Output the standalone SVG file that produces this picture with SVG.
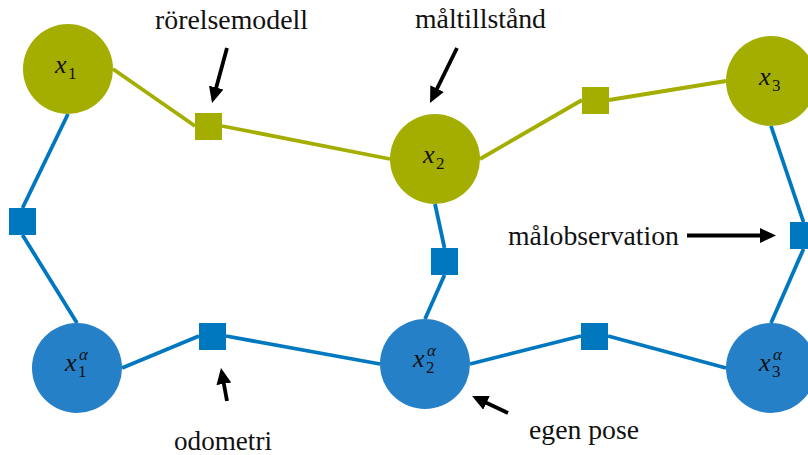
<svg xmlns="http://www.w3.org/2000/svg" width="808" height="455" viewBox="0 0 808 455">
  <defs>
    <style>
      .target { fill: #A3AE00; }
      .ego { fill: #2580C7; }
      .fblue { fill: #0078C0; }
      .fgreen { fill: #A3AE00; }
      .lgreen { stroke: #A3AE00; stroke-width: 3.8; fill: none; }
      .lblue { stroke: #0078C0; stroke-width: 3.8; fill: none; }
      .arrow { stroke: #000; stroke-width: 3.8; fill: none; marker-end: url(#head); }
      .lbl { font-family: 'Liberation Serif', 'Times New Roman', serif; font-size: 27px; fill: #111; }
      .math { font-family: 'Liberation Serif', 'Times New Roman', serif; font-style: italic; font-size: 26px; fill: #111; }
      .idx { font-family: 'Liberation Serif', 'Times New Roman', serif; font-size: 17px; fill: #111; }
      .sup { font-family: 'Liberation Serif', 'Times New Roman', serif; font-style: italic; font-size: 17px; fill: #111; }
    </style>
    <marker id="head" markerUnits="userSpaceOnUse" markerWidth="16" markerHeight="16" viewBox="0 0 16 16" refX="2" refY="8" orient="auto">
      <path d="M0,0.5 L16,8 L0,15.5 Z" fill="#000"/>
    </marker>
  </defs>

  <!-- edges between variables and factors -->
  <g id="connectors">
    <line class="lgreen" x1="113" y1="69" x2="195" y2="126"/>
    <line class="lgreen" x1="222" y1="126" x2="390" y2="159"/>
    <line class="lgreen" x1="480" y1="159" x2="582" y2="100"/>
    <line class="lgreen" x1="609" y1="100" x2="726" y2="81"/>
    <line class="lblue" x1="68" y1="114" x2="22.5" y2="208"/>
    <line class="lblue" x1="22.5" y1="235" x2="77" y2="323"/>
    <line class="lblue" x1="435" y1="204" x2="444.5" y2="248"/>
    <line class="lblue" x1="444.5" y1="275" x2="425" y2="319"/>
    <line class="lblue" x1="771" y1="126" x2="803.5" y2="222"/>
    <line class="lblue" x1="803.5" y1="249" x2="771" y2="323"/>
    <line class="lblue" x1="122" y1="368" x2="199" y2="336"/>
    <line class="lblue" x1="226" y1="336" x2="380" y2="364"/>
    <line class="lblue" x1="470" y1="364" x2="581" y2="336"/>
    <line class="lblue" x1="608" y1="336" x2="726" y2="368"/>
  </g>

  <!-- factor nodes -->
  <g id="f-motion-12"><rect class="fgreen" x="195" y="113" width="27" height="27"/></g>
  <g id="f-motion-23"><rect class="fgreen" x="582" y="87" width="27" height="27"/></g>
  <g id="f-obs-1"><rect class="fblue" x="9" y="208" width="27" height="27"/></g>
  <g id="f-obs-2"><rect class="fblue" x="431" y="248" width="27" height="27"/></g>
  <g id="f-obs-3"><rect class="fblue" x="790" y="222" width="27" height="27"/></g>
  <g id="f-odo-12"><rect class="fblue" x="199" y="323" width="27" height="27"/></g>
  <g id="f-odo-23"><rect class="fblue" x="581" y="323" width="27" height="27"/></g>

  <!-- target state variables -->
  <g id="x1">
    <circle class="target" cx="68" cy="69" r="45"/>
    <text class="math" x="55" y="73">x</text><text class="idx" x="68" y="79">1</text>
  </g>
  <g id="x2">
    <circle class="target" cx="435" cy="159" r="45"/>
    <text class="math" x="423" y="163">x</text><text class="idx" x="436" y="169">2</text>
  </g>
  <g id="x3">
    <circle class="target" cx="771" cy="81" r="45"/>
    <text class="math" x="759" y="85">x</text><text class="idx" x="772" y="91">3</text>
  </g>

  <!-- ego pose variables -->
  <g id="x1a">
    <circle class="ego" cx="77" cy="368" r="45"/>
    <text class="math" x="65" y="371">x</text><text class="sup" x="79" y="360">α</text><text class="idx" x="78" y="377">1</text>
  </g>
  <g id="x2a">
    <circle class="ego" cx="425" cy="364" r="45"/>
    <text class="math" x="413" y="367">x</text><text class="sup" x="427" y="356">α</text><text class="idx" x="426" y="373">2</text>
  </g>
  <g id="x3a">
    <circle class="ego" cx="771" cy="368" r="45"/>
    <text class="math" x="759" y="371">x</text><text class="sup" x="773" y="360">α</text><text class="idx" x="772" y="377">3</text>
  </g>

  <!-- annotations -->
  <g id="annotations">
    <line class="arrow" x1="227" y1="48" x2="215.7" y2="89.5"/>
    <line class="arrow" x1="457" y1="48" x2="436.2" y2="90.4"/>
    <line class="arrow" x1="687" y1="235.5" x2="762" y2="235.5"/>
    <line class="arrow" x1="227" y1="401" x2="223.5" y2="381.8"/>
    <line class="arrow" x1="508" y1="413" x2="484.7" y2="402"/>
    <text class="lbl" x="155" y="29" textLength="153" lengthAdjust="spacingAndGlyphs">rörelsemodell</text>
    <text class="lbl" x="415" y="28" textLength="131" lengthAdjust="spacingAndGlyphs">måltillstånd</text>
    <text class="lbl" x="508" y="245" textLength="171" lengthAdjust="spacingAndGlyphs">målobservation</text>
    <text class="lbl" x="174" y="450" textLength="98" lengthAdjust="spacingAndGlyphs">odometri</text>
    <text class="lbl" x="529" y="439" textLength="110" lengthAdjust="spacingAndGlyphs">egen pose</text>
  </g>
</svg>
